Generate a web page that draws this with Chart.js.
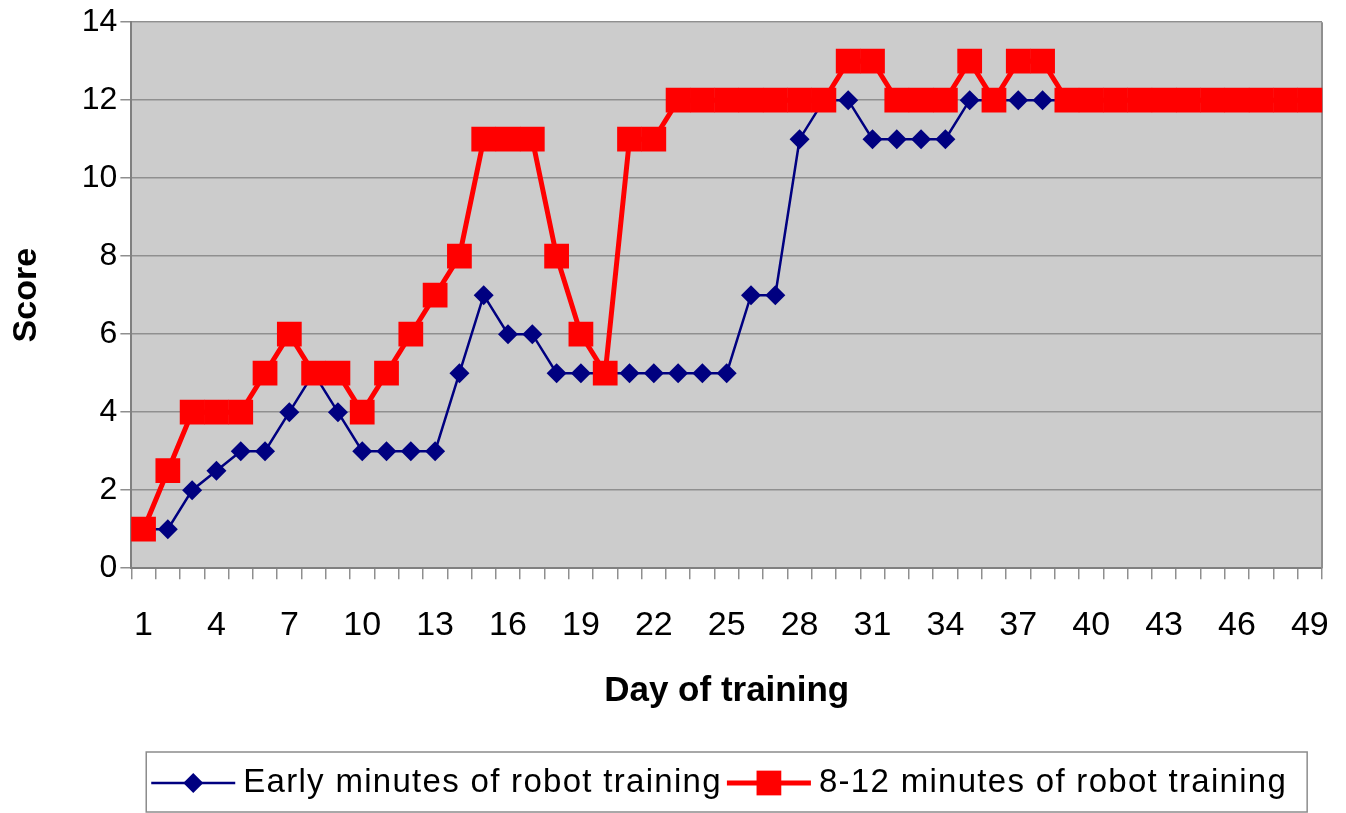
<!DOCTYPE html>
<html>
<head>
<meta charset="utf-8">
<title>Score by day of training</title>
<script src="https://cdn.jsdelivr.net/npm/chart.js@4.4.0/dist/chart.umd.min.js"></script>
<style>
  html, body { margin: 0; padding: 0; background: #fff; }
</style>
</head>
<body>
<canvas id="scoreChart" width="1346" height="813"></canvas>
<script>
const days = [1, 2, 3, 4, 5, 6, 7, 8, 9, 10, 11, 12, 13, 14, 15, 16, 17, 18, 19, 20,
  21, 22, 23, 24, 25, 26, 27, 28, 29, 30, 31, 32, 33, 34, 35, 36, 37, 38, 39, 40,
  41, 42, 43, 44, 45, 46, 47, 48, 49];

const earlyScores = [1, 1, 2, 2.5, 3, 3, 4, 5, 4, 3,
  3, 3, 3, 5, 7, 6, 6, 5, 5, 5,
  5, 5, 5, 5, 5, 7, 7, 11, 12, 12,
  11, 11, 11, 11, 12, 12, 12, 12, 12, 12,
  12, 12, 12, 12, 12, 12, 12, 12, 12];

const lateScores = [1, 2.5, 4, 4, 4, 5, 6, 5, 5, 4,
  5, 6, 7, 8, 11, 11, 11, 8, 6, 5,
  11, 11, 12, 12, 12, 12, 12, 12, 12, 13,
  13, 12, 12, 12, 13, 12, 13, 13, 12, 12,
  12, 12, 12, 12, 12, 12, 12, 12, 12];

const seriesNames = ['Early minutes of robot training', '8-12 minutes of robot training'];

const fontFamily = 'Arial, "Liberation Sans", sans-serif';
const gridGray = '#8f8f8f';

// grey plot area + right edge
const plotBackground = {
  id: 'plotBackground',
  beforeDraw(chart) {
    const { ctx, chartArea: a } = chart;
    ctx.save();
    ctx.fillStyle = '#cccccc';
    ctx.fillRect(a.left, a.top, a.right - a.left, a.bottom - a.top);
    ctx.restore();
  },
  beforeDatasetsDraw(chart) {
    const { ctx, chartArea: a } = chart;
    ctx.save();
    ctx.strokeStyle = gridGray;
    ctx.lineWidth = 2;
    ctx.beginPath();
    ctx.moveTo(a.right, a.top);
    ctx.lineTo(a.right, a.bottom);
    ctx.stroke();
    ctx.restore();
  }
};

// boxed legend with line + marker samples, centred under the plot
const boxedLegend = {
  id: 'boxedLegend',
  afterDraw(chart) {
    const { ctx, chartArea: a } = chart;
    const sets = chart.data.datasets;
    ctx.save();
    ctx.font = '33px ' + fontFamily;
    ctx.letterSpacing = '1.3px';
    const segW = 84, gap = 8, itemGap = 5, padL = 5, padR = 20;
    const widths = sets.map(ds => ctx.measureText(ds.label).width);
    const inner = widths.reduce((s, w) => s + segW + gap + w, 0) + itemGap * (sets.length - 1);
    const boxW = inner + padL + padR;
    let x = (a.left + a.right) / 2 - boxW / 2;
    const top = 752, h = 60, cy = top + h / 2 + 1;

    ctx.strokeStyle = '#8c8c8c';
    ctx.lineWidth = 1.5;
    ctx.strokeRect(x, top, boxW, h);
    x += padL;

    sets.forEach((ds, i) => {
      ctx.strokeStyle = ds.borderColor;
      ctx.lineWidth = ds.borderWidth;
      ctx.beginPath();
      ctx.moveTo(x, cy);
      ctx.lineTo(x + segW, cy);
      ctx.stroke();

      const mx = x + segW / 2;
      ctx.fillStyle = ds.pointBackgroundColor;
      ctx.beginPath();
      if (ds.pointStyle === 'rectRot') {
        const r = ds.pointRadius;
        ctx.moveTo(mx, cy - r);
        ctx.lineTo(mx + r, cy);
        ctx.lineTo(mx, cy + r);
        ctx.lineTo(mx - r, cy);
      } else {
        const s = ds.pointRadius * Math.SQRT1_2;
        ctx.rect(mx - s, cy - s, 2 * s, 2 * s);
      }
      ctx.closePath();
      ctx.fill();

      ctx.fillStyle = '#000';
      ctx.textBaseline = 'middle';
      ctx.textAlign = 'left';
      ctx.fillText(ds.label, x + segW + gap, cy);
      x += segW + gap + widths[i] + itemGap;
    });
    ctx.restore();
  }
};

const ctx = document.getElementById('scoreChart');

new Chart(ctx, {
  type: 'line',
  data: {
    labels: days,
    datasets: [{
      label: seriesNames[0],
      data: earlyScores,
      borderColor: '#000080',
      backgroundColor: '#000080',
      borderWidth: 2.5,
      pointStyle: 'rectRot',
      pointRadius: 10,
      pointHoverRadius: 10,
      pointBackgroundColor: '#000080',
      pointBorderWidth: 0,
      tension: 0,
      fill: false,
      order: 2
    }, {
      label: seriesNames[1],
      data: lateScores,
      borderColor: '#ff0000',
      backgroundColor: '#ff0000',
      borderWidth: 5,
      pointStyle: 'rect',
      pointRadius: 17.5,
      pointHoverRadius: 17.5,
      pointBackgroundColor: '#ff0000',
      pointBorderWidth: 0,
      tension: 0,
      fill: false,
      order: 1
    }]
  },
  options: {
    responsive: false,
    animation: false,
    devicePixelRatio: 1,
    layout: {
      padding: { top: 4, right: 24, bottom: 101, left: 6 }
    },
    plugins: {
      legend: { display: false },
      tooltip: { enabled: false }
    },
    scales: {
      x: {
        type: 'category',
        offset: true,
        // label padding would otherwise eat into the right margin
        afterFit(scale) {
          scale.paddingLeft = 0;
          scale.paddingRight = 0;
        },
        grid: {
          offset: true,
          drawOnChartArea: false,
          drawTicks: true,
          tickLength: 11,
          color: gridGray,
          lineWidth: 1.5
        },
        border: { color: '#808080', width: 2 },
        ticks: {
          autoSkip: false,
          maxRotation: 0,
          minRotation: 0,
          padding: 26,
          color: '#000',
          font: { family: fontFamily, size: 34 },
          callback: function (value, index) {
            return index % 3 === 0 ? this.getLabelForValue(value) : '';
          }
        },
        title: {
          display: true,
          text: 'Day of training',
          color: '#000',
          font: { family: fontFamily, size: 35, weight: 'bold' },
          padding: { top: -2, bottom: 0 }
        }
      },
      y: {
        min: 0,
        max: 14,
        grid: {
          color: gridGray,
          lineWidth: 1.5,
          tickLength: 11
        },
        border: { color: '#808080', width: 2 },
        ticks: {
          stepSize: 2,
          padding: 3,
          color: '#000',
          font: { family: fontFamily, size: 32 }
        },
        title: {
          display: true,
          text: 'Score',
          color: '#000',
          font: { family: fontFamily, size: 34, weight: 'bold' },
          padding: { top: 0, bottom: 32 }
        }
      }
    }
  },
  plugins: [plotBackground, boxedLegend]
});
</script>
</body>
</html>
